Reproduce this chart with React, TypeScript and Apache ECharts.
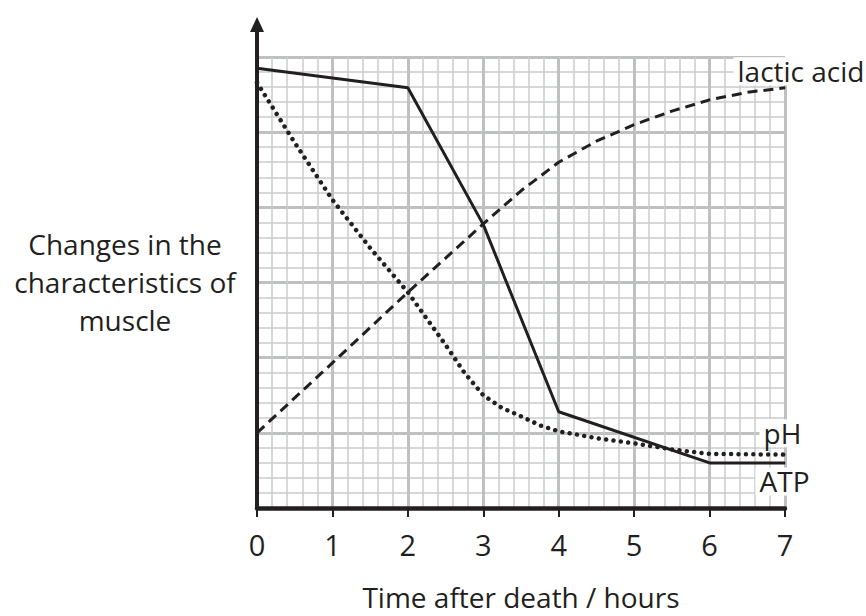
import React, { useEffect, useRef } from "react";
import * as echarts from "echarts";

// Time after death (hours) and relative levels
const ATP_TIME = [0, 2, 3, 4, 6, 7];
const ATP_LEVEL = [5.85, 5.59, 3.77, 1.28, 0.6, 0.6];

const PH_TIME = [0, 0.5, 1, 1.5, 2, 2.5, 2.75, 3, 3.25, 3.5, 3.75, 4, 4.5, 5, 5.5, 6, 7];
const PH_LEVEL = [5.66, 4.86, 4.1, 3.46, 2.87, 2.17, 1.8, 1.5, 1.33, 1.22, 1.1, 1.02, 0.93, 0.86, 0.78, 0.72, 0.71];

const LACTIC_TIME = [0, 1, 2, 3, 3.5, 4, 4.5, 5, 5.5, 6, 6.5, 7];
const LACTIC_LEVEL = [1.0, 1.93, 2.87, 3.78, 4.22, 4.6, 4.88, 5.1, 5.28, 5.43, 5.53, 5.59];

const SERIES_NAMES = ["ATP", "pH", "lactic acid"];
const X_NAME = "Time after death / hours";
const Y_NAME = "Changes in the\ncharacteristics of\nmuscle";

const INK = "#231f20";
const FONT = '"Open Sans", "DejaVu Sans", sans-serif';

const pairs = (xs: number[], ys: number[]) => xs.map((x, i) => [x, ys[i]]);

export default function App() {
  const ref = useRef<HTMLDivElement>(null);

  useEffect(() => {
    if (!ref.current) return;
    const chart = echarts.init(ref.current, undefined, { renderer: "svg" });

    const lastPoint = (xs: number[], ys: number[]) => [xs[xs.length - 1], ys[ys.length - 1]];

    const labelBase = {
      show: true,
      formatter: "{b}",
      align: "left",
      verticalAlign: "middle",
      fontSize: 28,
      lineHeight: 28,
      fontFamily: FONT,
      color: INK,
      opacity: 1,
      backgroundColor: "#ffffff",
      padding: [0, 4, 0, 4],
    };

    chart.setOption({
      animation: false,
      backgroundColor: "#ffffff",
      textStyle: { fontFamily: FONT, color: INK },
      grid: { left: 257, top: 57, right: 81, bottom: 106, containLabel: false },
      xAxis: {
        type: "value",
        min: 0,
        max: 7,
        interval: 1,
        name: X_NAME,
        nameLocation: "middle",
        nameGap: 75,
        nameTextStyle: { fontSize: 28, color: INK, fontFamily: FONT },
        axisLine: { show: true, onZero: false, lineStyle: { color: INK, width: 4.5 } },
        axisTick: { show: true, length: 9, lineStyle: { color: INK, width: 2 } },
        axisLabel: { show: true, fontSize: 29, color: INK, margin: 22, fontFamily: FONT },
        splitLine: { show: true, lineStyle: { color: "#bfc0c2", width: 3 } },
        minorTick: { show: false, splitNumber: 5 },
        minorSplitLine: { show: true, lineStyle: { color: "#cacbcd", width: 1.5 } },
      },
      yAxis: {
        type: "value",
        min: 0,
        max: 6,
        interval: 1,
        axisLine: {
          show: true,
          onZero: false,
          symbol: ["none", "path://M7 0 L14 15 L9 15 L9 80 L5 80 L5 15 L0 15 Z"],
          symbolSize: [14, 80],
          lineStyle: { color: INK, width: 4 },
        },
        axisTick: { show: false },
        axisLabel: { show: false },
        splitLine: { show: true, lineStyle: { color: "#bfc0c2", width: 3 } },
        minorTick: { show: false, splitNumber: 5 },
        minorSplitLine: { show: true, lineStyle: { color: "#cacbcd", width: 1.5 } },
      },
      graphic: [
        {
          type: "text",
          x: 125,
          y: 282,
          style: {
            text: Y_NAME,
            font: `28px ${FONT}`,
            fill: INK,
            align: "center",
            verticalAlign: "middle",
            textAlign: "center",
            textVerticalAlign: "middle",
            lineHeight: 38,
          },
        },
      ],
      series: [
        {
          name: SERIES_NAMES[2],
          type: "line",
          data: pairs(LACTIC_TIME, LACTIC_LEVEL),
          showSymbol: false,
          lineStyle: { color: INK, width: 3, type: [10, 6] },
          z: 3,
        },
        {
          name: SERIES_NAMES[1],
          type: "line",
          data: pairs(PH_TIME, PH_LEVEL),
          showSymbol: false,
          lineStyle: { color: INK, width: 4.5, type: [0.01, 7.4], cap: "round" },
          z: 3,
        },
        {
          name: SERIES_NAMES[0],
          type: "line",
          data: pairs(ATP_TIME, ATP_LEVEL),
          showSymbol: false,
          lineStyle: { color: INK, width: 3 },
          z: 4,
        },
        {
          type: "scatter",
          symbolSize: 1,
          silent: true,
          itemStyle: { color: INK, opacity: 1 },
          z: 10,
          data: [
            {
              name: SERIES_NAMES[2],
              value: lastPoint(LACTIC_TIME, LACTIC_LEVEL),
              label: { ...labelBase, position: [-51, -16] },
            },
            {
              name: SERIES_NAMES[1],
              value: lastPoint(PH_TIME, PH_LEVEL),
              label: { ...labelBase, position: [-25, -21] },
            },
            {
              name: SERIES_NAMES[0],
              value: lastPoint(ATP_TIME, ATP_LEVEL),
              label: { ...labelBase, position: [-29, 19] },
            },
          ],
        },
      ],
    });

    return () => chart.dispose();
  }, []);

  return (
    <div
      ref={ref}
      style={{ position: "fixed", left: 0, top: 0, width: 866, height: 616, background: "#fff" }}
    />
  );
}
